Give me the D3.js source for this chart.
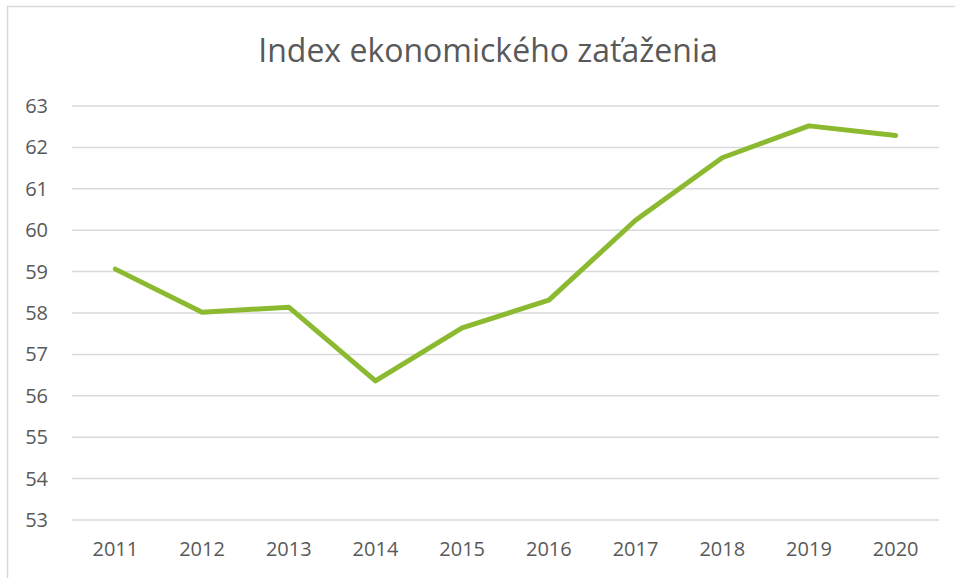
<!DOCTYPE html>
<html>
<head>
<meta charset="utf-8">
<script src="https://cdn.jsdelivr.net/npm/d3@7"></script>
<style>
  body { margin: 0; background: #fff; }
  text { font-family: "Open Sans", "Noto Sans", sans-serif; fill: #595959; }
</style>
</head>
<body>
<div id="chart"></div>
<script>
var years  = ["2011", "2012", "2013", "2014", "2015", "2016", "2017", "2018", "2019", "2020"];
var values = [59.06, 58.02, 58.14, 56.36, 57.64, 58.31, 60.24, 61.75, 62.52, 62.29];
var yTicks = [53, 54, 55, 56, 57, 58, 59, 60, 61, 62, 63];
var title  = "Index ekonomického zaťaženia";

var W = 955, H = 578;
var margin = {top: 106, left: 72, right: 16, bottom: 58},
    width  = W - margin.left - margin.right,
    height = H - margin.top - margin.bottom;

var svg = d3.select("#chart").append("svg")
    .attr("width", W)
    .attr("height", H);

// chart frame (only top and left edges are inside the picture)
svg.append("rect")
  .attr("x", 7.5).attr("y", 6.5)
  .attr("width", W + 10).attr("height", H + 10)
  .attr("fill", "none")
  .attr("stroke", "#d9d9d9")
  .attr("stroke-width", 1.5);

svg.append("text")
  .attr("x", 488)
  .attr("y", 62)
  .attr("text-anchor", "middle")
  .attr("font-size", 32)
  .attr("font-weight", 400)
  .text(title);

var g = svg.append("g").attr("transform", "translate(" + margin.left + "," + margin.top + ")");

var x = d3.scaleBand().domain(years).range([0, width]),
    y = d3.scaleLinear().domain([53, 63]).range([height, 0]);

// gridlines
g.selectAll(".horizontalGrid").data(yTicks).enter()
  .append("line")
  .attr("class", "horizontalGrid")
  .attr("x1", 0)
  .attr("x2", width)
  .attr("y1", function(d) { return y(d); })
  .attr("y2", function(d) { return y(d); })
  .attr("stroke", "#d9d9d9")
  .attr("stroke-width", 1.5);

g.append("g")
  .attr("class", "axis axis--y")
  .call(d3.axisLeft(y).tickValues(yTicks).tickSize(0).tickPadding(24))
  .call(function(a) { a.select(".domain").remove(); })
  .selectAll("text")
    .attr("font-size", 20)
    .attr("fill", "#595959");

g.append("g")
  .attr("class", "axis axis--x")
  .attr("transform", "translate(0," + height + ")")
  .call(d3.axisBottom(x).tickSize(0).tickPadding(22))
  .call(function(a) { a.select(".domain").remove(); })
  .selectAll("text")
    .attr("font-size", 20)
    .attr("fill", "#595959");

svg.selectAll(".axis text").style("font-family", "'Open Sans', 'Noto Sans', sans-serif");

var line = d3.line()
    .x(function(d, i) { return x(years[i]) + x.bandwidth() / 2; })
    .y(function(d) { return y(d); });

g.append("path")
  .datum(values)
  .attr("fill", "none")
  .attr("stroke", "#8bba30")
  .attr("stroke-width", 5)
  .attr("stroke-linejoin", "round")
  .attr("stroke-linecap", "round")
  .attr("d", line);
</script>
</body>
</html>
